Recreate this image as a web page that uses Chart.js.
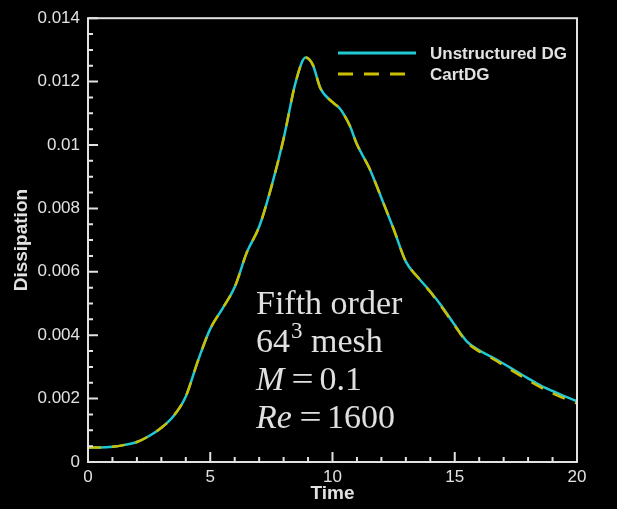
<!DOCTYPE html>
<html><head><meta charset="utf-8">
<script src="https://cdn.jsdelivr.net/npm/chart.js@4.4.1/dist/chart.umd.min.js"></script>
<style>
html,body{margin:0;padding:0;background:#000;}
#wrap{position:relative;width:617px;height:509px;}
#note{position:absolute;left:256px;top:284px;font-family:"Liberation Serif",serif;font-size:34px;line-height:38px;color:#e0e0e0;white-space:nowrap;}
#note sup{font-size:23px;line-height:0;vertical-align:14px;margin-left:1px;}
#note .eq{display:inline-block;margin:0 7px 0 9px;transform:scaleX(1.15);}
</style></head><body>
<div id="wrap">
<canvas id="chart" width="617" height="509"></canvas>
<div id="note">Fifth order<br>64<sup>3</sup> mesh<br><i>M</i><span class="eq">=</span>0.1<br><i>Re</i><span class="eq">=</span>1600</div>
</div>
<script>
/* data */
const time=[0,0.5,1,1.5,2,2.5,3,3.5,4,4.5,5,5.5,6,6.5,7,7.5,8,8.5,8.9,9.2,9.5,10,10.3,10.7,11,11.5,12,12.5,13,13.5,14,14.5,15,15.5,16,16.5,17,17.5,18,18.5,19,19.5,20];
const unstructuredDG=[0.00046,0.00046,0.00048,0.00054,0.00063,0.00082,0.00108,0.00145,0.00207,0.00320,0.00420,0.00484,0.00552,0.00662,0.00742,0.00868,0.01020,0.01200,0.01276,0.01252,0.01180,0.01135,0.01115,0.01062,0.01002,0.00928,0.00833,0.00735,0.00632,0.00582,0.00538,0.00488,0.00432,0.00380,0.00352,0.00332,0.00310,0.00287,0.00264,0.00242,0.00224,0.00207,0.00192];
const cartDG=[0.00046,0.00046,0.00048,0.00054,0.00063,0.00082,0.00108,0.00145,0.00207,0.00320,0.00420,0.00484,0.00552,0.00662,0.00742,0.00868,0.01020,0.01200,0.01276,0.01252,0.01180,0.01135,0.01115,0.01062,0.01002,0.00928,0.00833,0.00735,0.00632,0.00582,0.00536,0.00485,0.00430,0.00377,0.00349,0.00328,0.00305,0.00281,0.00258,0.00236,0.00217,0.00200,0.00185];
const yTicks=[0,0.002,0.004,0.006,0.008,0.01,0.012,0.014];
const xTicks=[0,5,10,15,20];
const seriesNames=['Unstructured DG','CartDG'];

const CYAN='#22c9d3',YEL='#cdbf00',FG='#e2e2e2';
const pts=a=>time.map((t,i)=>({x:t,y:a[i]}));

/* frame, inward ticks, legend */
const frame={id:'frame',afterDatasetsDraw(c){
  const {ctx,chartArea:a,scales:{x,y}}=c;
  ctx.save();ctx.strokeStyle=FG;ctx.lineWidth=2;
  ctx.strokeRect(a.left,a.top,a.right-a.left,a.bottom-a.top);
  ctx.beginPath();
  for(let i=0;i<=20;i++){const px=x.getPixelForValue(i),L=i%5?5:10;ctx.moveTo(px,a.bottom);ctx.lineTo(px,a.bottom-L);}
  for(let i=0;i<=28;i++){const py=y.getPixelForValue(i*0.0005),L=i%4?5:10;ctx.moveTo(a.left,py);ctx.lineTo(a.left+L,py);}
  ctx.stroke();
  // legend
  const ds=c.data.datasets;
  ctx.font='bold 17px "Liberation Sans"';ctx.fillStyle=FG;ctx.textBaseline='alphabetic';
  ds.forEach((d,i)=>{
    const ly=53+i*21;
    ctx.strokeStyle=d.borderColor;ctx.lineWidth=3;ctx.setLineDash(i?[15,11]:[]);
    ctx.beginPath();ctx.moveTo(338,ly);ctx.lineTo(i?405:416,ly);ctx.stroke();
    ctx.setLineDash([]);ctx.fillText(seriesNames[i],430,ly+6);
  });
  ctx.restore();
}};

new Chart(document.getElementById('chart'),{
  type:'line',
  data:{datasets:[
    {label:seriesNames[0],data:pts(unstructuredDG),order:2,borderColor:CYAN,borderWidth:2.5,pointRadius:0,cubicInterpolationMode:'monotone'},
    {label:seriesNames[1],data:pts(cartDG),order:1,borderColor:YEL,borderWidth:2.5,borderDash:[13,11],pointRadius:0,cubicInterpolationMode:'monotone'}
  ]},
  options:{responsive:false,animation:false,devicePixelRatio:1,
    layout:{padding:{left:0,right:40,top:15,bottom:0}},
    plugins:{legend:{display:false},tooltip:{enabled:false}},
    scales:{
      x:{type:'linear',min:0,max:20,
        afterBuildTicks:s=>{s.ticks=xTicks.map(v=>({value:v}));},
        afterFit:s=>{s.height=47;},
        grid:{display:false,drawTicks:false},border:{display:false},
        ticks:{color:FG,padding:5,font:{family:'Liberation Sans',size:17},maxRotation:0},
        title:{display:true,text:'Time',color:FG,font:{family:'Liberation Sans',size:19,weight:'bold'},padding:{top:0,bottom:4}}},
      y:{min:0,max:0.014,
        afterBuildTicks:s=>{s.ticks=yTicks.map(v=>({value:v}));},
        afterFit:s=>{s.width=88;},
        grid:{display:false,drawTicks:false},border:{display:false},
        ticks:{color:FG,padding:8,font:{family:'Liberation Sans',size:17},callback:v=>v===0?'0':String(+v.toFixed(3))},
        title:{display:true,text:'Dissipation',color:FG,font:{family:'Liberation Sans',size:19,weight:'bold'},padding:{top:10,bottom:0}}}
    }},
  plugins:[frame]
});
</script>
</body></html>
